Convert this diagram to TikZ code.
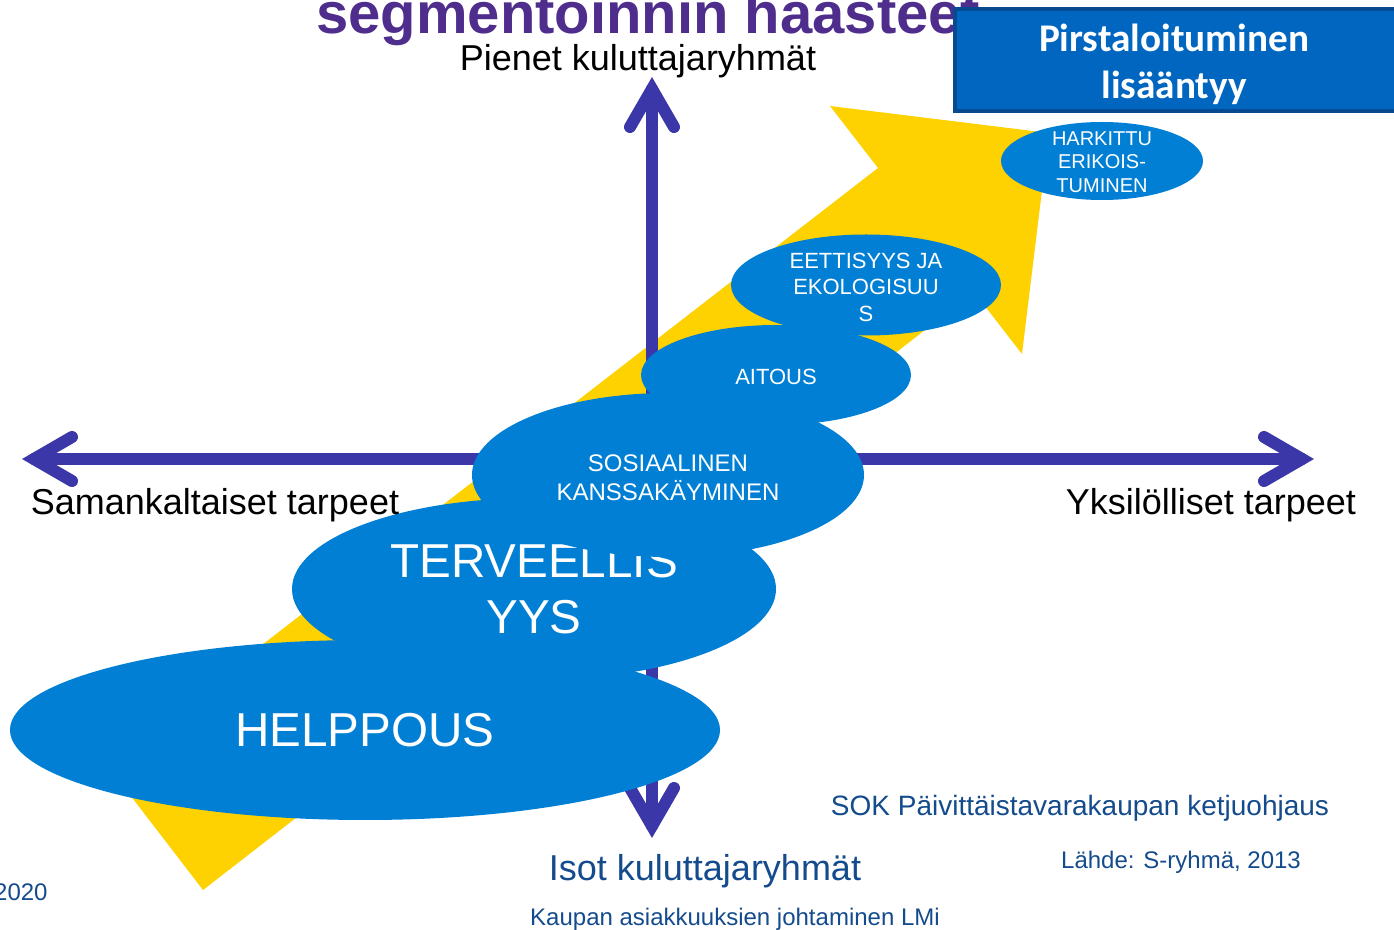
\documentclass[tikz,border=0pt]{standalone}
\usepackage{fontspec}
\setmainfont{Liberation Sans}
\newfontfamily\boxfont{Carlito}
\usetikzlibrary{shapes.geometric}

\definecolor{axisblue}{RGB}{59,55,168}
\definecolor{arrowyellow}{RGB}{254,209,0}
\definecolor{bubbleblue}{RGB}{0,127,212}
\definecolor{titlepurple}{RGB}{78,45,140}
\definecolor{boxfill}{RGB}{0,102,191}
\definecolor{boxedge}{RGB}{8,74,145}
\definecolor{notetext}{RGB}{20,75,140}

\tikzset{
  axisline/.style={draw=axisblue, line width=6pt, line cap=round, line join=miter},
  bubble/.style={ellipse, fill=bubbleblue, inner sep=0pt, outer sep=0pt},
  bubbletext/.style={text=white, align=center, inner sep=0pt},
  axislabel/.style={text=black, inner sep=0pt, anchor=base,
    font=\fontsize{18}{21}\selectfont},
  note/.style={text=notetext, inner sep=0pt, anchor=base},
}

\begin{document}
\begin{tikzpicture}[x=0.5pt, y=-0.5pt]
\useasboundingbox (0,0) rectangle (1394,930);

% title line, partly hidden under the blue box
\node[text=titlepurple, anchor=base west, inner sep=0pt,
      font=\fontsize{29}{32}\selectfont\bfseries] (title) at (316,34)
  {segmentoinnin haasteet};

% big yellow trend arrow
\fill[arrowyellow] (107,765) -- (878,168) -- (830,106) -- (1049,133)
  -- (1022,354) -- (974,292) -- (203,890) -- cycle;

% axes
\coordinate (leftTip) at (34,459);
\coordinate (rightTip) at (1302,459);
\coordinate (topTip) at (652,89);
\coordinate (bottomTip) at (652,826);
\coordinate (leftArmA) at (72,437);
\coordinate (leftArmB) at (72,481);
\coordinate (rightArmA) at (1264,437);
\coordinate (rightArmB) at (1264,481);
\coordinate (topArmA) at (630,127);
\coordinate (topArmB) at (674,127);
\coordinate (bottomArmA) at (630,788);
\coordinate (bottomArmB) at (674,788);

\draw[axisline] (leftTip) -- (rightTip);
\draw[axisline] (topTip) -- (bottomTip);
\draw[axisline] (leftArmA) -- (leftTip) -- (leftArmB);
\draw[axisline] (rightArmA) -- (rightTip) -- (rightArmB);
\draw[axisline] (topArmA) -- (topTip) -- (topArmB);
\draw[axisline] (bottomArmA) -- (bottomTip) -- (bottomArmB);

% stacked ellipses, bottom-left to top-right
\node[bubble, minimum width=355pt, minimum height=90pt] (helppous) at (365,730) {};
\node[bubbletext, font=\fontsize{23.8}{28}\selectfont] (helppousText) at (helppous.center) {HELPPOUS};

\node[bubble, minimum width=242pt, minimum height=91pt] (terve) at (534,589) {};
\node[bubbletext, font=\fontsize{23.8}{28}\selectfont] (terveText) at (terve.center) {TERVEELLIS\\YYS};

\node[bubble, minimum width=196pt, minimum height=82pt] (sosiaali) at (668,475) {};
\node[bubbletext, font=\fontsize{12}{14.5}\selectfont] (sosiaaliText) at (668,478) {SOSIAALINEN\\KANSSAKÄYMINEN};

\node[bubble, minimum width=135pt, minimum height=50pt] (aitous) at (776,375) {};
\node[bubbletext, font=\fontsize{11}{13}\selectfont] (aitousText) at (776,377) {AITOUS};

\node[bubble, minimum width=135pt, minimum height=50.5pt] (eetti) at (866,285) {};
\node[bubbletext, font=\fontsize{11}{13.25}\selectfont] (eettiText) at (866,287) {EETTISYYS JA\\EKOLOGISUU\\S};

\node[bubble, minimum width=101pt, minimum height=39pt] (harkittu) at (1102,161) {};
\node[bubbletext, font=\fontsize{10}{11.75}\selectfont] (harkittuText) at (1102,162) {HARKITTU\\ERIKOIS-\\TUMINEN};

% blue heading box at the top right
\path[fill=boxfill, draw=boxedge, line width=2pt] (955,9) rectangle (1420,111);
\node[text=white, align=center, inner sep=0pt,
      font=\fontsize{19.6}{23.5}\selectfont\boxfont\bfseries] (fragText) at (1174,64)
  {Pirstaloituminen\\lisääntyy};

% axis labels
\node[axislabel] (smallGroups) at (638,71) {Pienet kuluttajaryhmät};
\node[axislabel] (similarNeeds) at (215,515) {Samankaltaiset tarpeet};
\node[axislabel] (individualNeeds) at (1211,515) {Yksilölliset tarpeet};
\node[axislabel, text=notetext] (largeGroups) at (705,880) {Isot kuluttajaryhmät};

% notes
\node[note, font=\fontsize{14}{17}\selectfont] (sok) at (1080,815) {SOK Päivittäistavarakaupan ketjuohjaus};
\node[note, font=\fontsize{12}{14}\selectfont] (source) at (1181,869) {Lähde: S-ryhmä, 2013};
\node[note, font=\fontsize{12}{14}\selectfont] (course) at (735,925) {Kaupan asiakkuuksien johtaminen LMi};
\node[note, anchor=base east, font=\fontsize{12}{14}\selectfont] (year) at (48,900) {2020};
\end{tikzpicture}
\end{document}
